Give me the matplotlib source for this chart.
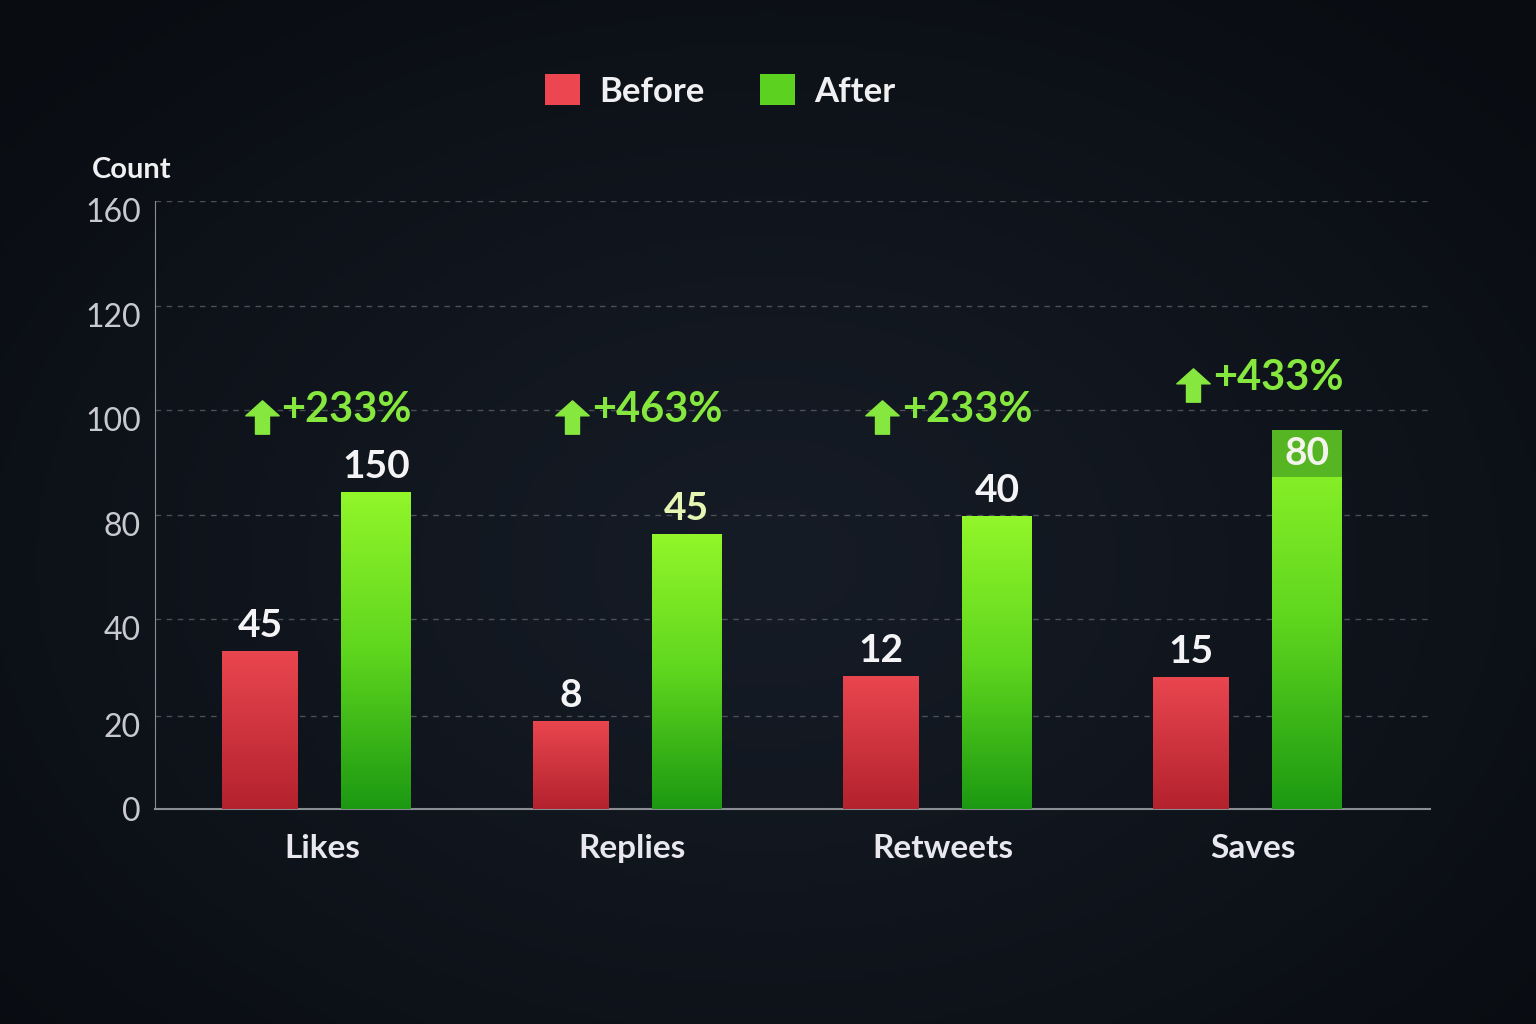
import numpy as np
import matplotlib
matplotlib.use("Agg")
import matplotlib.pyplot as plt
from matplotlib.patches import Patch
from matplotlib.path import Path
from matplotlib.colors import LinearSegmentedColormap
from matplotlib.transforms import offset_copy, ScaledTranslation

plt.rcParams['font.family'] = ['Lato', 'DejaVu Sans']

# data
categories = ['Likes', 'Replies', 'Retweets', 'Saves']
before_height = [33.4, 18.9, 28.2, 28.0]     # bar tops on the chart's axis
after_height = [84.4, 72.7, 79.6, 96.2]
before_labels = ['45', '8', '12', '15']
after_labels = ['150', '45', '40', '80']
change_labels = ['+233%', '+463%', '+233%', '+433%']
saves_cap_bottom = 87.2                       # darker top band of the Saves bar

# the y axis is drawn with uneven tick spacing
tick_values = [0, 20, 40, 80, 100, 120, 160]
tick_spacing = [0, 93, 190, 294, 399, 503, 608]


def fwd(v):
    return np.interp(v, tick_values, tick_spacing)


def inv(p):
    return np.interp(p, tick_spacing, tick_values)


fig = plt.figure(figsize=(15.36, 10.24), dpi=100)

# background glow
bg = fig.add_axes([0, 0, 1, 1], zorder=-10)
yy, xx = np.mgrid[0:1:200j, 0:1:300j]
r = np.sqrt(((xx - 0.5) / 0.75) ** 2 + ((yy - 0.55) / 0.8) ** 2)
bg_cmap = LinearSegmentedColormap.from_list('bg', ['#161c26', '#10151d', '#090c11'])
bg.imshow(r, cmap=bg_cmap, aspect='auto', extent=[0, 1, 0, 1], vmin=0, vmax=0.9)
bg.axis('off')

ax = fig.add_axes([0.1009, 0.21, 0.8301, 0.5937])
ax.set_facecolor('none')
ax.set_yscale('function', functions=(fwd, inv))
ax.set_ylim(0, 160)
ax.set_xlim(-0.538, 3.57)

x = np.arange(len(categories))
red_cmap = LinearSegmentedColormap.from_list('red', ['#b3222d', '#e9464f'])
green_cmap = LinearSegmentedColormap.from_list('green', ['#1c9912', '#5fd61e', '#92f62a'])

b1 = ax.bar(x - 0.2, before_height, width=0.242, color='#d9343f', zorder=3)
b2 = ax.bar(x + 0.175, after_height, width=0.225, color='#5fd61e', zorder=3)

to_axes = ax.transData + ax.transAxes.inverted()
grad = np.linspace(0, 1, 256).reshape(-1, 1)
for bars, cmap in [(b1, red_cmap), (b2, green_cmap)]:
    for bar in bars:
        x0, y0 = to_axes.transform((bar.get_x(), 0))
        x1, y1 = to_axes.transform((bar.get_x() + bar.get_width(), bar.get_height()))
        im = ax.imshow(grad, cmap=cmap, origin='lower', aspect='auto',
                       extent=[x0, x1, y0, y1], transform=ax.transAxes, zorder=4)
        im.set_clip_path(bar)
        bar.set_alpha(0)

# darker cap on Saves
ax.bar(x[3] + 0.175, after_height[3] - saves_cap_bottom, bottom=saves_cap_bottom,
       width=0.225, color='#56b522', zorder=5)

# value labels
for i in range(len(categories)):
    ax.annotate(before_labels[i], (x[i] - 0.2, before_height[i]), xytext=(0, 6),
                textcoords='offset points', ha='center', va='bottom',
                fontsize=28, fontweight='bold', color='#f4f4f6', zorder=6)
    if i == 3:
        ax.text(x[i] + 0.175, (after_height[i] + saves_cap_bottom) / 2, after_labels[i],
                ha='center', va='center', fontsize=28, fontweight='bold',
                color='#f4f4ee', zorder=6)
    else:
        col = '#e6f5b4' if i == 1 else '#f4f4f6'
        ax.annotate(after_labels[i], (x[i] + 0.175, after_height[i]), xytext=(0, 6),
                    textcoords='offset points', ha='center', va='bottom',
                    fontsize=28, fontweight='bold', color=col, zorder=6)

# percent change with arrows
arrow = Path([(-1, 0.1), (0, 1), (1, 0.1), (0.42, 0.1), (0.42, -1), (-0.42, -1),
              (-0.42, 0.1), (-1, 0.1)], closed=True)
arrow_tr = offset_copy(ax.transData, fig=fig, x=-20, y=-7, units='dots')
for i in range(len(categories)):
    level = max(100, after_height[i] + 10)
    ax.text(x[i] - 0.13, level, change_labels[i], ha='left', va='center',
            fontsize=30, fontweight='bold', color='#86e83e', zorder=6)
    ax.plot(x[i] - 0.13, level, marker=arrow, markersize=24, color='#86e83e',
            transform=arrow_tr, zorder=6, clip_on=False)

# axes styling
ax.set_yticks(tick_values)
ax.set_yticklabels([str(v) for v in tick_values])
ax.set_xticks(x)
ax.set_xticklabels(categories)
ax.tick_params(axis='y', length=0, pad=10, labelsize=23, labelcolor='#c8c9cd')
ax.tick_params(axis='x', length=0, pad=18, labelsize=24, labelcolor='#e8e8ee')
shift = ScaledTranslation(0, -0.09, fig.dpi_scale_trans)
for lab in ax.get_yticklabels()[1:]:
    lab.set_transform(lab.get_transform() + shift)
for lab in ax.get_xticklabels():
    lab.set_fontweight('bold')
ax.yaxis.grid(True, linestyle=(0, (4, 4)), color='#4a4f58', linewidth=1, zorder=0)
ax.set_axisbelow(True)
for s in ['top', 'right']:
    ax.spines[s].set_visible(False)
ax.spines['left'].set_color('#8a8d94')
ax.spines['bottom'].set_color('#8a8d94')
ax.spines['bottom'].set_linewidth(1.5)

fig.text(92 / 1536, 1 - 170 / 1024, 'Count', ha='left', va='center',
         fontsize=21, fontweight='bold', color='#f0f0f2')

handles = [Patch(facecolor='#ec4651', label='Before'),
           Patch(facecolor='#5dd11f', label='After')]
leg = fig.legend(handles=handles, loc='center', bbox_to_anchor=(720 / 1536, 1 - 91 / 1024),
                 ncol=2, frameon=False, fontsize=25, handlelength=1.0, handleheight=1.0,
                 handletextpad=0.55, columnspacing=1.6)
for t in leg.get_texts():
    t.set_color('#f0f0f2')
    t.set_fontweight('bold')

fig.savefig('out.png', dpi=100)
